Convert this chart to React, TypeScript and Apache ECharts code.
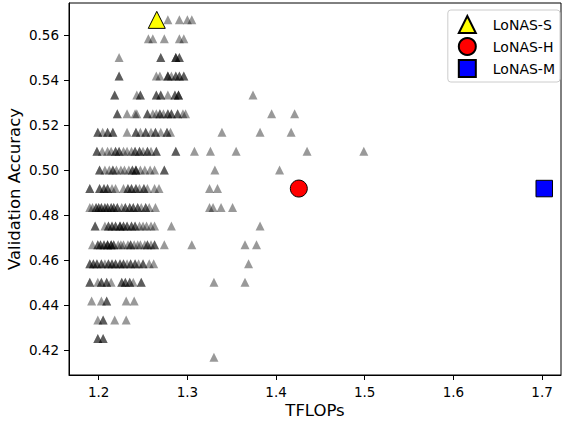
import React, { useEffect, useRef } from "react";
import * as echarts from "echarts";

// Validation accuracy levels (rows of the scatter)
const accuracyLevels = [
  0.5667, 0.5583, 0.55, 0.5417, 0.5333, 0.525, 0.5167, 0.5083, 0.5, 0.4917,
  0.4833, 0.475, 0.4667, 0.4583, 0.45, 0.4417, 0.4333, 0.425, 0.4167,
];

// TFLOPs of the sampled sub-networks at each accuracy level
const tflopsPerLevel: number[][] = [
  [1.265, 1.278, 1.291, 1.3, 1.305],
  [1.256, 1.261, 1.274, 1.291, 1.296],
  [1.223, 1.27, 1.27, 1.287, 1.287, 1.287, 1.291, 1.291],
  [1.223, 1.223, 1.265, 1.269, 1.278, 1.278, 1.278, 1.282, 1.287, 1.287, 1.291, 1.291, 1.296, 1.296],
  [1.218, 1.218, 1.243, 1.247, 1.247, 1.265, 1.265, 1.27, 1.27, 1.278, 1.286, 1.286, 1.29, 1.29, 1.29, 1.374],
  [1.221, 1.221, 1.232, 1.241, 1.243, 1.255, 1.255, 1.261, 1.265, 1.269, 1.269, 1.273, 1.278, 1.278, 1.282, 1.282, 1.289, 1.289, 1.295, 1.298, 1.395, 1.421],
  [1.199, 1.199, 1.2045, 1.21, 1.21, 1.216, 1.216, 1.232, 1.242, 1.242, 1.247, 1.253, 1.253, 1.259, 1.264, 1.264, 1.27, 1.277, 1.277, 1.281, 1.339, 1.382, 1.417],
  [1.198, 1.198, 1.204, 1.21, 1.214, 1.219, 1.219, 1.223, 1.223, 1.228, 1.232, 1.237, 1.241, 1.241, 1.246, 1.246, 1.25, 1.255, 1.255, 1.259, 1.265, 1.265, 1.287, 1.287, 1.308, 1.326, 1.355, 1.435, 1.499],
  [1.201, 1.201, 1.207, 1.212, 1.216, 1.216, 1.22, 1.225, 1.229, 1.234, 1.238, 1.238, 1.242, 1.242, 1.242, 1.247, 1.252, 1.258, 1.263, 1.274, 1.274, 1.331, 1.404],
  [1.19, 1.19, 1.201, 1.201, 1.206, 1.206, 1.21, 1.21, 1.215, 1.219, 1.228, 1.233, 1.233, 1.237, 1.237, 1.242, 1.242, 1.246, 1.251, 1.251, 1.255, 1.263, 1.268, 1.325, 1.334],
  [1.19, 1.193, 1.197, 1.197, 1.2, 1.2, 1.203, 1.203, 1.207, 1.207, 1.21, 1.21, 1.214, 1.214, 1.217, 1.217, 1.221, 1.221, 1.226, 1.23, 1.23, 1.235, 1.235, 1.239, 1.239, 1.244, 1.244, 1.248, 1.253, 1.253, 1.257, 1.264, 1.325, 1.329, 1.338, 1.351],
  [1.196, 1.196, 1.207, 1.211, 1.211, 1.215, 1.215, 1.219, 1.219, 1.224, 1.224, 1.224, 1.228, 1.228, 1.232, 1.232, 1.237, 1.237, 1.241, 1.241, 1.246, 1.25, 1.254, 1.259, 1.263, 1.282, 1.382],
  [1.193, 1.199, 1.199, 1.202, 1.202, 1.206, 1.206, 1.21, 1.21, 1.21, 1.214, 1.214, 1.214, 1.217, 1.217, 1.222, 1.225, 1.228, 1.233, 1.236, 1.236, 1.24, 1.244, 1.247, 1.252, 1.255, 1.255, 1.259, 1.263, 1.263, 1.274, 1.305, 1.365, 1.378],
  [1.19, 1.19, 1.194, 1.194, 1.198, 1.198, 1.203, 1.203, 1.207, 1.211, 1.211, 1.215, 1.215, 1.219, 1.219, 1.224, 1.224, 1.228, 1.228, 1.232, 1.236, 1.236, 1.241, 1.241, 1.245, 1.25, 1.25, 1.257, 1.262, 1.369],
  [1.19, 1.19, 1.199, 1.203, 1.203, 1.209, 1.209, 1.214, 1.226, 1.226, 1.23, 1.23, 1.235, 1.235, 1.239, 1.248, 1.248, 1.33, 1.365],
  [1.192, 1.203, 1.209, 1.209, 1.231, 1.24],
  [1.199, 1.205, 1.205, 1.218, 1.231],
  [1.199, 1.199, 1.205, 1.205],
  [1.33],
];

// Highlighted models
const lonasNames = ["LoNAS-S", "LoNAS-H", "LoNAS-M"];
const lonasTflops = [1.2655, 1.4257, 1.7025];
const lonasAccuracy = [0.5667, 0.4917, 0.4917];

const xTicks = [1.2, 1.3, 1.4, 1.5, 1.6, 1.7];
const yTicks = [0.42, 0.44, 0.46, 0.48, 0.5, 0.52, 0.54, 0.56];

const FONT = "DejaVu Sans";

export default function App() {
  const ref = useRef<HTMLDivElement>(null);

  useEffect(() => {
    if (!ref.current) return;
    const chart = echarts.init(ref.current, undefined, { renderer: "svg" });

    const cloud: number[][] = [];
    tflopsPerLevel.forEach((row, i) => {
      row.forEach((x) => cloud.push([x, accuracyLevels[i]]));
    });

    const symbols = ["triangle", "circle", "rect"];
    const colors = ["#ffff00", "#ff0000", "#0000ff"];
    const sizes = [17, 17, 16.5];

    const specialSeries = lonasNames.map((name, i) => ({
      name,
      type: "scatter",
      symbol: symbols[i],
      symbolSize: sizes[i],
      data: [[lonasTflops[i], lonasAccuracy[i]]],
      itemStyle: { color: colors[i], borderColor: "#000", borderWidth: 1, opacity: 1 },
      z: 5,
    }));

    chart.setOption({
      animation: false,
      textStyle: { fontFamily: FONT },
      grid: {
        left: 69,
        right: 2,
        top: 3,
        bottom: 48,
        containLabel: false,
        outerBoundsMode: "none",
        show: true,
        borderColor: "#000",
        borderWidth: 1,
        backgroundColor: "transparent",
      },
      legend: {
        data: [
          { name: "LoNAS-S", icon: "triangle" },
          { name: "LoNAS-H", icon: "circle" },
          { name: "LoNAS-M", icon: "rect" },
        ],
        orient: "vertical",
        right: 3,
        top: 10,
        itemWidth: 17,
        itemHeight: 17,
        itemGap: 3,
        padding: [5, 5, 4, 10],
        backgroundColor: "rgba(255,255,255,0.8)",
        borderColor: "#cccccc",
        borderWidth: 1,
        borderRadius: 3,
        textStyle: { fontSize: 14, color: "#000", fontFamily: FONT, padding: [0, 0, 0, 12] },
      },
      xAxis: {
        type: "value",
        min: 1.1665,
        max: 1.7214,
        name: "TFLOPs",
        nameLocation: "middle",
        nameGap: 27,
        nameMoveOverlap: false,
        nameTextStyle: { fontSize: 16.5, color: "#000", fontFamily: FONT },
        axisLine: { show: true, onZero: false, lineStyle: { color: "#000", width: 1 } },
        axisTick: { show: true, length: 5, customValues: xTicks, lineStyle: { color: "#000" } },
        axisLabel: {
          customValues: xTicks,
          formatter: (v: number) => v.toFixed(1),
          color: "#000",
          fontSize: 13.5,
          margin: 10,
          fontFamily: FONT,
        },
        splitLine: { show: false },
      },
      yAxis: {
        type: "value",
        min: 0.4088,
        max: 0.5742,
        name: "Validation Accuracy",
        nameLocation: "middle",
        nameGap: 46,
        nameMoveOverlap: false,
        nameTextStyle: { fontSize: 16.5, color: "#000", fontFamily: FONT },
        axisLine: { show: true, onZero: false, lineStyle: { color: "#000", width: 1 } },
        axisTick: { show: true, length: 5, customValues: yTicks, lineStyle: { color: "#000" } },
        axisLabel: {
          customValues: yTicks,
          formatter: (v: number) => v.toFixed(2),
          color: "#000",
          fontSize: 13.5,
          margin: 10,
          fontFamily: FONT,
        },
        splitLine: { show: false },
      },
      series: [
        {
          name: "samples",
          type: "scatter",
          symbol: "triangle",
          symbolSize: 9,
          data: cloud,
          itemStyle: { color: "rgba(0,0,0,0.5)", borderWidth: 0 },
          z: 2,
        },
        ...specialSeries,
      ],
    });

    return () => chart.dispose();
  }, []);

  return (
    <div
      ref={ref}
      style={{ position: "fixed", left: 0, top: 0, width: 563, height: 423, background: "#fff" }}
    />
  );
}
